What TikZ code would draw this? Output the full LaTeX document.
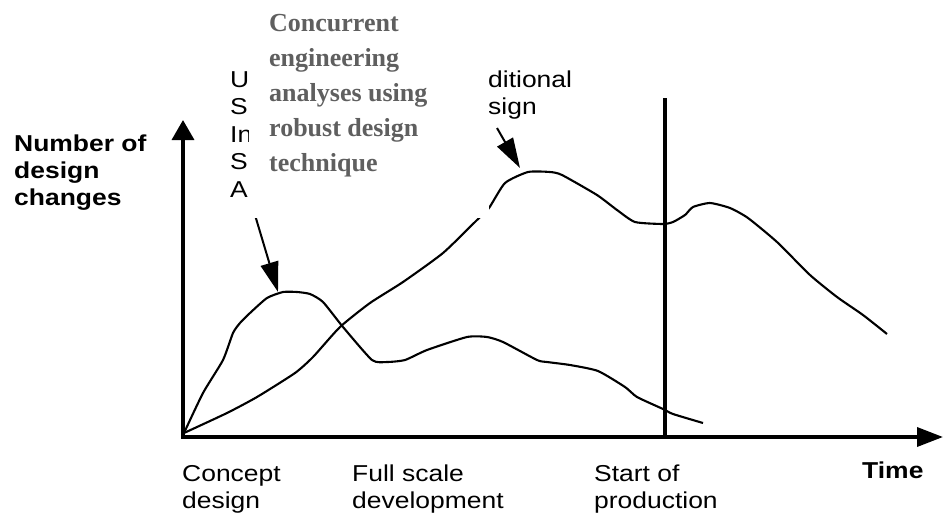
\documentclass[tikz,border=0pt]{standalone}
\usepackage{fontspec}
\setmainfont{Liberation Sans}
\newfontfamily\plotfont[FakeStretch=1.15]{Liberation Sans}
\newfontfamily\notefont{Liberation Serif}
\usetikzlibrary{arrows.meta}
\definecolor{notegray}{HTML}{5F5F5F}
\tikzset{
	lbl/.style={anchor=north west, inner sep=0pt, align=left, font=\plotfont\fontsize{23}{27}\selectfont},
	curve/.style={line width=2.1pt, line join=round, smooth, tension=0.35},
	pointer/.style={line width=2pt, -{Triangle[length=30pt,width=18pt]}}
}
\begin{document}
\begin{tikzpicture}[x=1pt,y=-1pt]
			\useasboundingbox (0,0) rectangle (943,512);
			\coordinate (O) at (183,437);
			\coordinate (ytip) at (183,120);
			\coordinate (xtip) at (943,437);
			\coordinate (sopbot) at (665,437);
			\coordinate (soptop) at (665,98);
			
			% curves
			\draw[curve] plot coordinates {(184,433) (203,393) (223,360) (233,333) (240,323) (250,313) (267,298) (283,292) (297,292) (310,294) (323,302) (343,327) (372,360) (387,362) (405,360) (427,350) (467,337) (487,337) (503,342) (537,360) (547,362) (570,365) (598,371) (625,387) (637,397) (663,409) (673,414) (703,423)};
			\draw[curve] plot coordinates {(184,433) (227,413) (257,397) (295,373) (313,357) (340,327) (370,303) (403,282) (443,253) (477,220) (489,208) (505,183) (528,172) (550,172) (562,175) (597,195) (617,210) (635,222) (663,224) (673,222) (685,215) (693,207) (710,203) (730,208) (748,218) (777,242) (810,275) (837,297) (863,315) (887,334)};
			
			% pointers to the peaks
			\coordinate (peakA) at (278,292);
			\coordinate (peakB) at (520,168);
			\coordinate (fromA) at (252,205);
			\coordinate (fromB) at (497,128);
			\draw[pointer] (fromA) -- (peakA);
			\draw[pointer] (fromB) -- (peakB);
			
			\node[lbl, font=\plotfont\fontsize{23}{27.5}\selectfont] (using) at (230,71) {U\\S\\In\\S\\A};
			\node[lbl] (trad) at (488,71) {ditional\\sign};
			
			% note on top, white background
			\node[fill=white, inner sep=0pt, minimum width=240pt, minimum height=224pt, anchor=north west] (notebg) at (249,-6) {};
			\node[anchor=north west, inner sep=0pt, align=left, text=notegray, font=\notefont\bfseries\fontsize{26}{35}\selectfont] (note) at (269,14) {Concurrent\\engineering\\analyses using\\robust design\\technique};
			
			% axes
			\draw[line width=3.5pt, line join=miter, {Triangle[length=20pt,width=22pt]}-{Triangle[length=26pt,width=19pt]}] (ytip) -- (O) -- (xtip);
			\draw[line width=3.2pt] (sopbot) -- (soptop);
			
			\node[lbl, font=\plotfont\bfseries\fontsize{23}{27}\selectfont] (ylabel) at (14,135) {Number of\\design\\changes};
			\node[lbl, font=\plotfont\bfseries\fontsize{23}{27}\selectfont] (xlabel) at (862,462) {Time};
			\foreach \x/\t [count=\k] in {182/{Concept\\design}, 352/{Full scale\\development}, 594/{Start of\\production}}{
				\node[lbl] (phase\k) at (\x,465) {\t};
			}
		\end{tikzpicture}
\end{document}
